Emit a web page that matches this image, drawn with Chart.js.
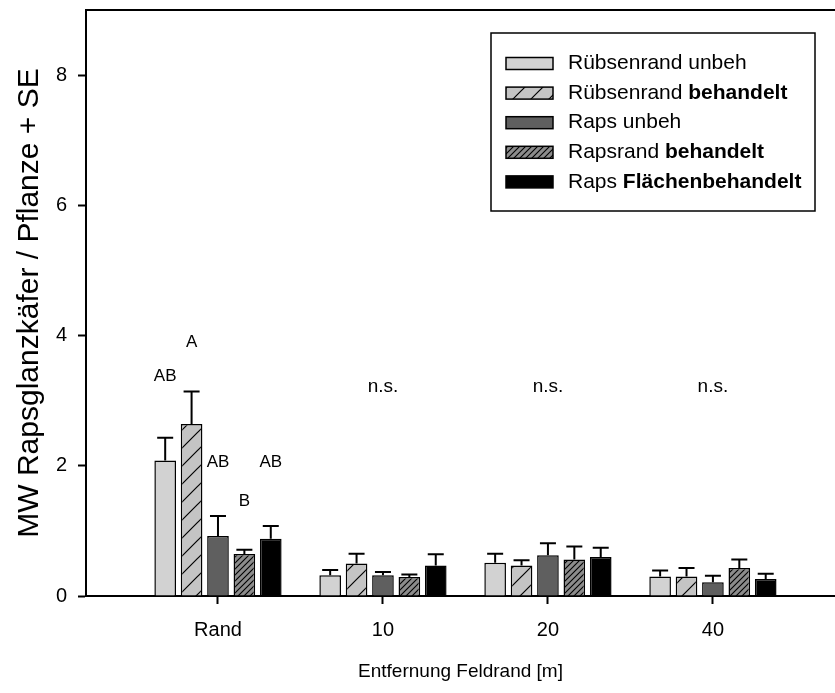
<!DOCTYPE html>
<html><head><meta charset="utf-8">
<script src="https://cdn.jsdelivr.net/npm/chart.js@4.4.0/dist/chart.umd.min.js"></script>
<style>html,body{margin:0;padding:0;background:#fff}#wrap{width:835px;height:693px}</style>
</head><body><div id="wrap"><canvas id="c" width="835" height="693"></canvas></div>
<script>
// ---- data ----
const categories = ['Rand', '10', '20', '40'];
const categoryPositions = [1, 2, 3, 4];
const yTickValues = [0, 2, 4, 6, 8];
const seriesNames = ['Rübsenrand unbeh', 'Rübsenrand behandelt', 'Raps unbeh', 'Rapsrand behandelt', 'Raps Flächenbehandelt'];
const legendPlain = ['Rübsenrand unbeh', 'Rübsenrand ', 'Raps unbeh', 'Rapsrand ', 'Raps '];
const legendBold = ['', 'behandelt', '', 'behandelt', 'Flächenbehandelt'];
const ruebsenUnbeh = [2.08, 0.32, 0.51, 0.30];
const ruebsenBeh = [2.64, 0.50, 0.47, 0.30];
const rapsUnbeh = [0.92, 0.32, 0.625, 0.21];
const rapsrandBeh = [0.645, 0.29, 0.56, 0.43];
const rapsFlaeche = [0.88, 0.47, 0.60, 0.26];
const seRuebsenUnbeh = [0.35, 0.08, 0.14, 0.09];
const seRuebsenBeh = [0.50, 0.15, 0.08, 0.13];
const seRapsUnbeh = [0.31, 0.05, 0.185, 0.10];
const seRapsrandBeh = [0.065, 0.04, 0.20, 0.13];
const seRapsFlaeche = [0.195, 0.17, 0.14, 0.08];
const randLetters = ['AB', 'A', 'AB', 'B', 'AB'];
const randLetterY = [3.38, 3.90, 2.06, 1.46, 2.06];
const nsCategories = [2, 3, 4];
const nsY = 3.21;

const values = [ruebsenUnbeh, ruebsenBeh, rapsUnbeh, rapsrandBeh, rapsFlaeche];
const errors = [seRuebsenUnbeh, seRuebsenBeh, seRapsUnbeh, seRapsrandBeh, seRapsFlaeche];

const FONT = '"Liberation Sans", Arial, sans-serif';
const canvas = document.getElementById('c');
const ctx = canvas.getContext('2d');

function hatch(bg, s, lw) {
  const c = document.createElement('canvas');
  c.width = s; c.height = s;
  const g = c.getContext('2d');
  g.fillStyle = bg; g.fillRect(0, 0, s, s);
  g.strokeStyle = '#000'; g.lineWidth = lw;
  g.beginPath();
  g.moveTo(-1, s + 1); g.lineTo(s + 1, -1);
  g.moveTo(-2, 2); g.lineTo(2, -2);
  g.moveTo(s - 2, s + 2); g.lineTo(s + 2, s - 2);
  g.stroke();
  return ctx.createPattern(c, 'repeat');
}
const fills = ['#d2d2d2', hatch('#c4c4c4', 18, 1.2), '#5f5f5f', hatch('#8c8c8c', 6, 1.1), '#000000'];

const datasets = values.map((arr, i) => ({
  label: seriesNames[i],
  data: arr.map((v, j) => ({ x: categoryPositions[j], y: v })),
  backgroundColor: fills[i],
  borderColor: '#000',
  borderWidth: 1.5,
  categoryPercentage: 0.8,
  barPercentage: 0.82
}));

const errorBars = {
  id: 'errorBars',
  afterDatasetsDraw(chart) {
    const g = chart.ctx, ys = chart.scales.y;
    g.save(); g.strokeStyle = '#000'; g.lineWidth = 2;
    chart.data.datasets.forEach((ds, i) => {
      chart.getDatasetMeta(i).data.forEach((el, j) => {
        const top = ys.getPixelForValue(values[i][j] + errors[i][j]);
        g.beginPath();
        g.moveTo(el.x, el.y); g.lineTo(el.x, top);
        g.moveTo(el.x - 8, top); g.lineTo(el.x + 8, top);
        g.stroke();
      });
    });
    g.restore();
  }
};

const annotations = {
  id: 'annotations',
  afterDatasetsDraw(chart) {
    const g = chart.ctx, ys = chart.scales.y, xs = chart.scales.x;
    g.save(); g.fillStyle = '#000';
    g.textAlign = 'center'; g.textBaseline = 'middle';
    g.font = '17px ' + FONT;
    randLetters.forEach((t, i) => {
      const el = chart.getDatasetMeta(i).data[0];
      g.fillText(t, el.x, ys.getPixelForValue(randLetterY[i]));
    });
    g.font = '19px ' + FONT;
    nsCategories.forEach(c => g.fillText('n.s.', xs.getPixelForValue(c), ys.getPixelForValue(nsY)));
    // top frame line
    const a = chart.chartArea;
    g.strokeStyle = '#000'; g.lineWidth = 2;
    g.beginPath(); g.moveTo(a.left - 1, a.top); g.lineTo(a.right, a.top); g.stroke();
    g.restore();
  }
};

const boxLegend = {
  id: 'boxLegend',
  afterDraw(chart, args, o) {
    const g = chart.ctx;
    g.save();
    g.fillStyle = '#fff'; g.fillRect(o.x, o.y, o.w, o.h);
    g.strokeStyle = '#000'; g.lineWidth = 1.5; g.strokeRect(o.x, o.y, o.w, o.h);
    chart.data.datasets.forEach((ds, i) => {
      const cy = o.firstRow + i * o.rowGap;
      g.fillStyle = ds.backgroundColor;
      g.fillRect(o.swX, cy - o.swH / 2, o.swW, o.swH);
      g.lineWidth = 1.5; g.strokeStyle = '#000';
      g.strokeRect(o.swX, cy - o.swH / 2, o.swW, o.swH);
      g.fillStyle = '#000'; g.textBaseline = 'middle'; g.textAlign = 'left';
      g.font = o.size + 'px ' + FONT;
      g.fillText(legendPlain[i], o.textX, cy);
      const w = g.measureText(legendPlain[i]).width;
      if (legendBold[i]) {
        g.font = 'bold ' + o.size + 'px ' + FONT;
        g.fillText(legendBold[i], o.textX + w, cy);
      }
    });
    g.restore();
  }
};

new Chart(canvas, {
  type: 'bar',
  data: { datasets },
  plugins: [errorBars, annotations, boxLegend],
  options: {
    responsive: false,
    devicePixelRatio: 1,
    animation: false,
    layout: { padding: { top: 10, right: 0, left: 0, bottom: 0 } },
    plugins: {
      legend: { display: false },
      tooltip: { enabled: false },
      boxLegend: { x: 491, y: 33, w: 324, h: 178, swX: 506, swW: 47, swH: 12, textX: 568, firstRow: 63.5, rowGap: 29.6, size: 21 }
    },
    scales: {
      x: {
        type: 'linear', min: 0.2, max: 4.74, offset: false,
        afterBuildTicks: s => { s.ticks = categoryPositions.map(v => ({ value: v })); },
        afterFit: s => { s.height = 97; s.paddingLeft = 0; s.paddingRight = 0; },
        ticks: { callback: v => categories[categoryPositions.indexOf(v)], color: '#000', font: { size: 20, family: FONT }, padding: 14, maxRotation: 0, autoSkip: false },
        grid: { offset: false, drawOnChartArea: false, drawTicks: true, tickLength: 8, tickColor: '#000', tickWidth: 2 },
        border: { display: true, color: '#000', width: 2 },
        title: { display: true, text: 'Entfernung Feldrand [m]', color: '#000', font: { size: 19, family: FONT }, padding: { top: 0, bottom: 10 } }
      },
      y: {
        min: 0, max: 9,
        afterBuildTicks: s => { s.ticks = yTickValues.map(v => ({ value: v })); },
        afterFit: s => { s.width = 86; s.paddingTop = 0; s.paddingBottom = 0; },
        ticks: { color: '#000', font: { size: 20, family: FONT }, padding: 11 },
        grid: { drawOnChartArea: false, drawTicks: true, tickLength: 8, tickColor: '#000', tickWidth: 2 },
        border: { display: true, color: '#000', width: 2 },
        title: { display: true, text: 'MW Rapsglanzkäfer / Pflanze + SE', color: '#000', font: { size: 30, family: FONT }, padding: { top: 12, bottom: 0 } }
      }
    }
  }
});
</script></body></html>
